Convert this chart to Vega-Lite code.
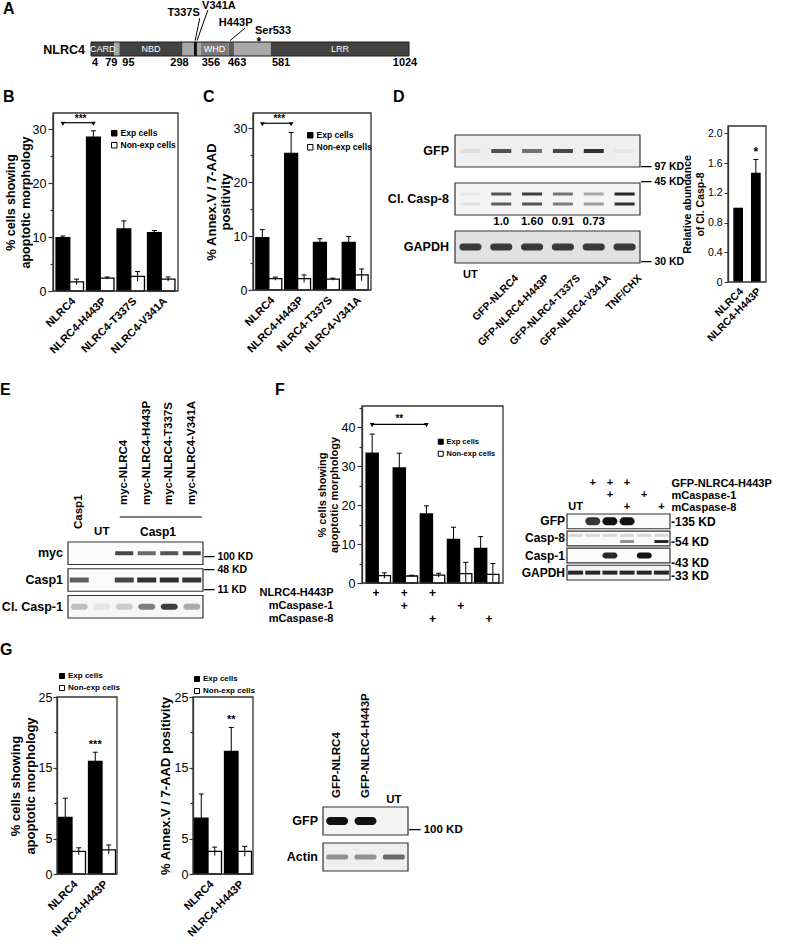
{
"$schema": "https://vega.github.io/schema/vega-lite/v6.json",
"width": 792,
"height": 948,
"autosize": {"type": "none"},
"padding": 0,
"background": "white",
"config": {
  "font": "Liberation Sans",
  "view": {"stroke": null},
  "axis": {"grid": false, "domainColor": "#333", "tickColor": "#333", "labelColor": "#000", "titleColor": "#000", "labelFont": "Liberation Sans", "titleFont": "Liberation Sans"},
  "legend": {"labelFont": "Liberation Sans"},
  "text": {"font": "Liberation Sans"}
},
"resolve": {
  "scale": {"x": "independent", "y": "independent", "xOffset": "independent", "yOffset": "independent", "color": "independent", "opacity": "independent"},
  "axis": {"x": "independent", "y": "independent"},
  "legend": {"color": "independent", "opacity": "independent"}
},
"layer": [
 {"layer": [
   {"data": {"values": [
     {"start": 4, "end": 79, "kind": "dark"},
     {"start": 79, "end": 95, "kind": "light"},
     {"start": 95, "end": 298, "kind": "dark"},
     {"start": 298, "end": 356, "kind": "light"},
     {"start": 356, "end": 445, "kind": "mid"},
     {"start": 445, "end": 463, "kind": "dark2"},
     {"start": 463, "end": 581, "kind": "light"},
     {"start": 581, "end": 1024, "kind": "dark"}]},
    "mark": {"type": "rect"},
    "encoding": {
      "x": {"field": "start", "type": "quantitative", "scale": {"domain": [4, 1024], "range": [91, 409], "nice": false, "zero": false}, "axis": null},
      "x2": {"field": "end"},
      "y": {"datum": 0, "type": "quantitative", "scale": {"domain": [0, 4], "range": [56, 0], "nice": false, "zero": false}, "axis": null},
      "y2": {"datum": 1},
      "color": {"field": "kind", "type": "nominal", "scale": {"domain": ["dark", "light", "mid", "dark2"], "range": ["#424242", "#a9a9a9", "#7b7b7b", "#5b5b5b"]}, "legend": null}}},
   {"data": {"values": [{"start": 4, "end": 1024}]},
    "mark": {"type": "rect", "fillOpacity": 0, "stroke": "#1a1a1a", "strokeWidth": 1},
    "encoding": {"x": {"field": "start", "type": "quantitative"}, "x2": {"field": "end"}, "y": {"datum": 0, "type": "quantitative"}, "y2": {"datum": 1}}},
   {"data": {"values": [{"residue": 337}, {"residue": 341}]},
    "mark": {"type": "rule", "color": "#000", "strokeWidth": 1.5},
    "encoding": {"x": {"field": "residue", "type": "quantitative"}, "y": {"datum": 0, "type": "quantitative"}, "y2": {"datum": 1}}},
   {"data": {"values": [{"domain": "CARD", "start": 4, "end": 79}, {"domain": "NBD", "start": 95, "end": 298}, {"domain": "WHD", "start": 356, "end": 445}, {"domain": "LRR", "start": 581, "end": 1024}]},
    "transform": [{"fold": ["start", "end"], "as": ["edge", "res"]}, {"aggregate": [{"op": "mean", "field": "res", "as": "center"}], "groupby": ["domain"]}],
    "mark": {"type": "text", "color": "#fff", "fontSize": 9, "baseline": "middle"},
    "encoding": {"x": {"field": "center", "type": "quantitative"}, "y": {"datum": 0.5, "type": "quantitative"}, "text": {"field": "domain"}}},
   {"data": {"values": [{"residue": 4}, {"residue": 356}, {"residue": 581}]},
    "mark": {"type": "text", "align": "left", "baseline": "middle", "dx": 1, "fontSize": 11, "fontWeight": "bold"},
    "encoding": {"x": {"field": "residue", "type": "quantitative"}, "y": {"datum": -0.5, "type": "quantitative"}, "text": {"field": "residue", "type": "quantitative", "format": "d"}}},
   {"data": {"values": [{"residue": 95}]},
    "mark": {"type": "text", "align": "left", "baseline": "middle", "dx": 3, "fontSize": 11, "fontWeight": "bold"},
    "encoding": {"x": {"field": "residue", "type": "quantitative"}, "y": {"datum": -0.5, "type": "quantitative"}, "text": {"field": "residue", "type": "quantitative", "format": "d"}}},
   {"data": {"values": [{"residue": 463}]},
    "mark": {"type": "text", "align": "center", "baseline": "middle", "dx": 3, "fontSize": 11, "fontWeight": "bold"},
    "encoding": {"x": {"field": "residue", "type": "quantitative"}, "y": {"datum": -0.5, "type": "quantitative"}, "text": {"field": "residue", "type": "quantitative", "format": "d"}}},
   {"data": {"values": [{"residue": 1024}]},
    "mark": {"type": "text", "align": "center", "baseline": "middle", "dx": -4, "fontSize": 11, "fontWeight": "bold"},
    "encoding": {"x": {"field": "residue", "type": "quantitative"}, "y": {"datum": -0.5, "type": "quantitative"}, "text": {"field": "residue", "type": "quantitative", "format": "d"}}},
   {"data": {"values": [{"residue": 79}]},
    "mark": {"type": "text", "align": "right", "baseline": "middle", "dx": 3, "fontSize": 11, "fontWeight": "bold"},
    "encoding": {"x": {"field": "residue", "type": "quantitative"}, "y": {"datum": -0.5, "type": "quantitative"}, "text": {"field": "residue", "type": "quantitative", "format": "d"}}},
   {"data": {"values": [{"residue": 298}]},
    "mark": {"type": "text", "align": "right", "baseline": "middle", "dx": 6, "fontSize": 11, "fontWeight": "bold"},
    "encoding": {"x": {"field": "residue", "type": "quantitative"}, "y": {"datum": -0.5, "type": "quantitative"}, "text": {"field": "residue", "type": "quantitative", "format": "d"}}},
   {"data": {"values": [{"protein": "NLRC4"}]},
    "mark": {"type": "text", "align": "right", "baseline": "middle", "dx": -6, "fontSize": 12.5, "fontWeight": "bold"},
    "encoding": {"x": {"datum": 4, "type": "quantitative"}, "y": {"datum": 0.4, "type": "quantitative"}, "text": {"field": "protein"}}},
   {"data": {"values": [{"mutation": "T337S", "residue": 337}]},
    "mark": {"type": "text", "align": "right", "baseline": "middle", "dx": 5, "fontSize": 11, "fontWeight": "bold"},
    "encoding": {"x": {"field": "residue", "type": "quantitative"}, "y": {"datum": 3.07, "type": "quantitative"}, "text": {"field": "mutation"}}},
   {"data": {"values": [{"mutation": "V341A", "residue": 341}]},
    "mark": {"type": "text", "align": "left", "baseline": "middle", "dx": 6, "fontSize": 11, "fontWeight": "bold"},
    "encoding": {"x": {"field": "residue", "type": "quantitative"}, "y": {"datum": 3.58, "type": "quantitative"}, "text": {"field": "mutation"}}},
   {"data": {"values": [{"mutation": "H443P", "residue": 443}]},
    "mark": {"type": "text", "align": "left", "baseline": "middle", "dx": -9, "fontSize": 11, "fontWeight": "bold"},
    "encoding": {"x": {"field": "residue", "type": "quantitative"}, "y": {"datum": 2.36, "type": "quantitative"}, "text": {"field": "mutation"}}},
   {"data": {"values": [{"site": "Ser533", "residue": 533}]},
    "mark": {"type": "text", "align": "left", "baseline": "middle", "dx": -1, "fontSize": 11, "fontWeight": "bold"},
    "encoding": {"x": {"field": "residue", "type": "quantitative"}, "y": {"datum": 1.78, "type": "quantitative"}, "text": {"field": "site"}}},
   {"data": {"values": [{"mark": "*", "residue": 533}]},
    "mark": {"type": "text", "align": "center", "baseline": "middle", "dx": 3, "fontSize": 12, "fontWeight": "bold"},
    "encoding": {"x": {"field": "residue", "type": "quantitative"}, "y": {"datum": 1.0, "type": "quantitative"}, "text": {"field": "mark"}}},
   {"data": {"values": [{"mutation": "T337S"}]},
    "mark": {"type": "rule", "color": "#000", "strokeWidth": 1},
    "encoding": {"x": {"datum": 353, "type": "quantitative"}, "y": {"datum": 2.71, "type": "quantitative"}, "x2": {"datum": 338}, "y2": {"datum": 1.1}}},
   {"data": {"values": [{"mutation": "V341A"}]},
    "mark": {"type": "rule", "color": "#000", "strokeWidth": 1},
    "encoding": {"x": {"datum": 379, "type": "quantitative"}, "y": {"datum": 3.29, "type": "quantitative"}, "x2": {"datum": 344}, "y2": {"datum": 1.1}}},
   {"data": {"values": [{"mutation": "H443P"}]},
    "mark": {"type": "rule", "color": "#000", "strokeWidth": 1},
    "encoding": {"x": {"datum": 498, "type": "quantitative"}, "y": {"datum": 2.0, "type": "quantitative"}, "x2": {"datum": 450}, "y2": {"datum": 1.1}}},
   {"data": {"values": [{"panel": "A"}]},
    "mark": {"type": "text", "align": "left", "baseline": "alphabetic", "fontSize": 16, "fontWeight": "bold"},
    "encoding": {"x": {"datum": -278, "type": "quantitative"}, "y": {"datum": 3.0, "type": "quantitative"}, "text": {"field": "panel"}}}
 ]},

 {"data": {"values": [
    {"construct": "NLRC4", "cells": "Exp cells", "value": 9.9, "lo": 9.5, "hi": 10.2},
    {"construct": "NLRC4", "cells": "Non-exp cells", "value": 1.7, "lo": 1.2, "hi": 2.2},
    {"construct": "NLRC4-H443P", "cells": "Exp cells", "value": 28.5, "lo": 27.3, "hi": 29.7},
    {"construct": "NLRC4-H443P", "cells": "Non-exp cells", "value": 2.4, "lo": 2.2, "hi": 2.6},
    {"construct": "NLRC4-T337S", "cells": "Exp cells", "value": 11.5, "lo": 10.0, "hi": 13.0},
    {"construct": "NLRC4-T337S", "cells": "Non-exp cells", "value": 2.7, "lo": 1.8, "hi": 3.6},
    {"construct": "NLRC4-V341A", "cells": "Exp cells", "value": 10.8, "lo": 10.4, "hi": 11.2},
    {"construct": "NLRC4-V341A", "cells": "Non-exp cells", "value": 2.2, "lo": 1.8, "hi": 2.6}]},
  "encoding": {
    "x": {"field": "construct", "type": "nominal", "scale": {"domain": ["NLRC4", "NLRC4-H443P", "NLRC4-T337S", "NLRC4-V341A"], "range": [53, 178], "paddingInner": 0.1, "paddingOuter": 0.1}, "axis": {"orient": "bottom", "offset": -657, "title": null, "labelAngle": -45, "labelFontSize": 11, "labelFontWeight": "bold", "ticks": false, "domain": false, "labelPadding": 4}},
    "xOffset": {"field": "cells", "type": "nominal", "scale": {"domain": ["Exp cells", "Non-exp cells"]}}},
  "layer": [
   {"mark": {"type": "bar", "stroke": "#000", "strokeWidth": 1.3, "opacity": 1},
    "encoding": {
      "y": {"field": "value", "type": "quantitative", "scale": {"domain": [0, 33], "range": [291, 113], "nice": false}, "axis": {"orient": "left", "offset": -53, "title": ["% cells showing", "apoptotic morphology"], "titleFontSize": 12.5, "titleFontWeight": "bold", "titleLineHeight": 15, "titlePadding": 0, "labelFontSize": 12.5, "values": [0, 5, 10, 15, 20, 25, 30], "labelExpr": "datum.value % 10 === 0 ? datum.label : ''", "tickSize": {"condition": {"test": "datum.value % 10 === 0", "value": 5}, "value": 3}, "tickWidth": 1.2, "labelPadding": 2, "domainWidth": 1.3}},
      "color": {"field": "cells", "type": "nominal", "scale": {"domain": ["Exp cells", "Non-exp cells"], "range": ["#000000", "#ffffff"]}, "legend": {"title": null, "orient": "none", "legendX": 110, "legendY": 129, "symbolType": "square", "symbolSize": 30, "symbolStrokeColor": "#000", "symbolStrokeWidth": 1, "labelFontSize": 8.5, "labelFontWeight": "bold", "rowPadding": 2, "labelOffset": 2, "padding": 0}}}},
   {"mark": {"type": "rule", "color": "#000", "strokeWidth": 1}, "encoding": {"y": {"field": "lo", "type": "quantitative"}, "y2": {"field": "hi"}}},
   {"mark": {"type": "tick", "orient": "horizontal", "size": 5, "thickness": 1, "color": "#000", "opacity": 1}, "encoding": {"y": {"field": "hi", "type": "quantitative"}}},
   {"data": {"values": [{"construct": "NLRC4"}, {"construct": "NLRC4-H443P"}]},
    "mark": {"type": "line", "color": "#000", "strokeWidth": 1.2},
    "encoding": {"xOffset": {"datum": "Exp cells"}, "y": {"datum": 31.2, "type": "quantitative"}}},
   {"data": {"values": [{"construct": "NLRC4"}, {"construct": "NLRC4-H443P"}]},
    "mark": {"type": "point", "shape": "triangle-down", "filled": true, "color": "#000", "size": 22, "opacity": 1},
    "encoding": {"xOffset": {"datum": "Exp cells"}, "y": {"datum": 31.0, "type": "quantitative"}}},
   {"data": {"values": [{"construct": "NLRC4", "sig": "***"}]},
    "mark": {"type": "text", "dx": 4, "dy": -4, "fontSize": 10, "fontWeight": "bold"},
    "encoding": {"xOffset": {"datum": "Non-exp cells"}, "y": {"datum": 31.2, "type": "quantitative"}, "text": {"field": "sig"}}}
 ]},

 {"data": {"values": [{"panel": "B"}]},
  "encoding": {"x": {"datum": 0, "type": "quantitative", "scale": {"domain": [0, 1], "range": [53, 178]}, "axis": null}, "y": {"datum": 0, "type": "quantitative", "scale": {"domain": [0, 1], "range": [291, 113]}, "axis": null}},
  "layer": [
   {"mark": {"type": "rect", "fillOpacity": 0, "stroke": "#333", "strokeWidth": 1.3}, "encoding": {"x2": {"datum": 1}, "y2": {"datum": 1}}},
   {"mark": {"type": "text", "align": "left", "baseline": "alphabetic", "fontSize": 16, "fontWeight": "bold"}, "encoding": {"x": {"datum": -0.4, "type": "quantitative"}, "y": {"datum": 1.062, "type": "quantitative"}, "text": {"field": "panel"}}}
 ]},

 {"data": {"values": [
    {"construct": "NLRC4", "cells": "Exp cells", "value": 9.7, "lo": 8.3, "hi": 11.2},
    {"construct": "NLRC4", "cells": "Non-exp cells", "value": 2.1, "lo": 1.8, "hi": 2.4},
    {"construct": "NLRC4-H443P", "cells": "Exp cells", "value": 25.3, "lo": 21.4, "hi": 29.2},
    {"construct": "NLRC4-H443P", "cells": "Non-exp cells", "value": 2.1, "lo": 1.4, "hi": 2.8},
    {"construct": "NLRC4-T337S", "cells": "Exp cells", "value": 8.8, "lo": 8.1, "hi": 9.5},
    {"construct": "NLRC4-T337S", "cells": "Non-exp cells", "value": 2.0, "lo": 1.8, "hi": 2.2},
    {"construct": "NLRC4-V341A", "cells": "Exp cells", "value": 8.8, "lo": 7.7, "hi": 9.9},
    {"construct": "NLRC4-V341A", "cells": "Non-exp cells", "value": 2.8, "lo": 1.7, "hi": 3.9}]},
  "encoding": {
    "x": {"field": "construct", "type": "nominal", "scale": {"domain": ["NLRC4", "NLRC4-H443P", "NLRC4-T337S", "NLRC4-V341A"], "range": [253, 371], "paddingInner": 0.1, "paddingOuter": 0.1}, "axis": {"orient": "bottom", "offset": -658, "title": null, "labelAngle": -45, "labelFontSize": 11, "labelFontWeight": "bold", "ticks": false, "domain": false, "labelPadding": 4}},
    "xOffset": {"field": "cells", "type": "nominal", "scale": {"domain": ["Exp cells", "Non-exp cells"]}}},
  "layer": [
   {"mark": {"type": "bar", "stroke": "#000", "strokeWidth": 1.3, "opacity": 1},
    "encoding": {
      "y": {"field": "value", "type": "quantitative", "scale": {"domain": [0, 32.8], "range": [290, 113], "nice": false}, "axis": {"orient": "left", "offset": -253, "title": ["% Annex.V / 7-AAD", "positivity"], "titleFontSize": 13, "titleFontWeight": "bold", "titleLineHeight": 14, "titlePadding": 1, "labelFontSize": 12.5, "values": [0, 5, 10, 15, 20, 25, 30], "labelExpr": "datum.value % 10 === 0 ? datum.label : ''", "tickSize": {"condition": {"test": "datum.value % 10 === 0", "value": 5}, "value": 3}, "tickWidth": 1.2, "labelPadding": 1, "domainWidth": 1.3}},
      "color": {"field": "cells", "type": "nominal", "scale": {"domain": ["Exp cells", "Non-exp cells"], "range": ["#000000", "#ffffff"]}, "legend": {"title": null, "orient": "none", "legendX": 306, "legendY": 131, "symbolType": "square", "symbolSize": 30, "symbolStrokeColor": "#000", "symbolStrokeWidth": 1, "labelFontSize": 8.5, "labelFontWeight": "bold", "rowPadding": 2, "labelOffset": 2, "padding": 0}}}},
   {"mark": {"type": "rule", "color": "#000", "strokeWidth": 1}, "encoding": {"y": {"field": "lo", "type": "quantitative"}, "y2": {"field": "hi"}}},
   {"mark": {"type": "tick", "orient": "horizontal", "size": 5, "thickness": 1, "color": "#000", "opacity": 1}, "encoding": {"y": {"field": "hi", "type": "quantitative"}}},
   {"data": {"values": [{"construct": "NLRC4"}, {"construct": "NLRC4-H443P"}]},
    "mark": {"type": "line", "color": "#000", "strokeWidth": 1.2},
    "encoding": {"xOffset": {"datum": "Exp cells"}, "y": {"datum": 30.9, "type": "quantitative"}}},
   {"data": {"values": [{"construct": "NLRC4"}, {"construct": "NLRC4-H443P"}]},
    "mark": {"type": "point", "shape": "triangle-down", "filled": true, "color": "#000", "size": 22, "opacity": 1},
    "encoding": {"xOffset": {"datum": "Exp cells"}, "y": {"datum": 30.7, "type": "quantitative"}}},
   {"data": {"values": [{"construct": "NLRC4", "sig": "***"}]},
    "mark": {"type": "text", "dx": 4, "dy": -4, "fontSize": 10, "fontWeight": "bold"},
    "encoding": {"xOffset": {"datum": "Non-exp cells"}, "y": {"datum": 30.9, "type": "quantitative"}, "text": {"field": "sig"}}}
 ]},

 {"data": {"values": [{"panel": "C"}]},
  "encoding": {"x": {"datum": 0, "type": "quantitative", "scale": {"domain": [0, 1], "range": [253, 371]}, "axis": null}, "y": {"datum": 0, "type": "quantitative", "scale": {"domain": [0, 1], "range": [290, 113]}, "axis": null}},
  "layer": [
   {"mark": {"type": "rect", "fillOpacity": 0, "stroke": "#333", "strokeWidth": 1.3}, "encoding": {"x2": {"datum": 1}, "y2": {"datum": 1}}},
   {"mark": {"type": "text", "align": "left", "baseline": "alphabetic", "fontSize": 16, "fontWeight": "bold"}, "encoding": {"x": {"datum": -0.424, "type": "quantitative"}, "y": {"datum": 1.062, "type": "quantitative"}, "text": {"field": "panel"}}},
   {"data": {"values": [{"panel": "D"}]}, "mark": {"type": "text", "align": "left", "baseline": "alphabetic", "fontSize": 16, "fontWeight": "bold"}, "encoding": {"x": {"datum": 1.186, "type": "quantitative"}, "y": {"datum": 1.062, "type": "quantitative"}, "text": {"field": "panel"}}}
 ]},

 {"layer": [
   {"data": {"values": [{"strip": "GFP"}, {"strip": "Cl. Casp-8"}, {"strip": "GAPDH"}]},
    "mark": {"type": "rect", "stroke": "#333", "strokeWidth": 1.2},
    "encoding": {
      "x": {"datum": 0.5, "type": "quantitative", "scale": {"domain": [0.5, 6.5], "range": [455, 640], "nice": false, "zero": false}, "axis": null},
      "x2": {"datum": 6.5},
      "y": {"field": "strip", "type": "nominal", "scale": {"domain": ["GFP", "Cl. Casp-8", "GAPDH"], "range": [135, 263], "paddingInner": 0.333, "paddingOuter": 0}, "axis": null},
      "color": {"field": "strip", "type": "nominal", "scale": {"domain": ["GFP", "Cl. Casp-8", "GAPDH"], "range": ["#efefef", "#f4f4f4", "#e2e2e2"]}, "legend": null}}},
   {"data": {"values": [{"lane": 1, "intensity": 0.08}, {"lane": 2, "intensity": 0.75}, {"lane": 3, "intensity": 0.6}, {"lane": 4, "intensity": 0.8}, {"lane": 5, "intensity": 0.9}, {"lane": 6, "intensity": 0.04}]},
    "mark": {"type": "tick", "orient": "horizontal", "size": 20, "thickness": 4, "color": "#1c1c1c"},
    "encoding": {"x": {"field": "lane", "type": "quantitative"}, "y": {"datum": "GFP", "type": "nominal"}, "opacity": {"field": "intensity", "type": "quantitative", "scale": {"domain": [0, 1], "range": [0, 1]}, "legend": null}}},
   {"data": {"values": [
      {"lane": 1, "band": "upper", "intensity": 0.05}, {"lane": 1, "band": "lower", "intensity": 0.08},
      {"lane": 2, "band": "upper", "intensity": 0.75}, {"lane": 2, "band": "lower", "intensity": 0.7},
      {"lane": 3, "band": "upper", "intensity": 0.85}, {"lane": 3, "band": "lower", "intensity": 0.75},
      {"lane": 4, "band": "upper", "intensity": 0.6}, {"lane": 4, "band": "lower", "intensity": 0.55},
      {"lane": 5, "band": "upper", "intensity": 0.35}, {"lane": 5, "band": "lower", "intensity": 0.4},
      {"lane": 6, "band": "upper", "intensity": 0.95}, {"lane": 6, "band": "lower", "intensity": 0.9}]},
    "mark": {"type": "tick", "orient": "horizontal", "size": 20, "thickness": 3, "color": "#1c1c1c"},
    "encoding": {"x": {"field": "lane", "type": "quantitative"}, "y": {"datum": "Cl. Casp-8", "type": "nominal"}, "yOffset": {"field": "band", "type": "nominal", "scale": {"domain": ["upper", "lower"], "paddingInner": 0, "paddingOuter": 0.6}}, "opacity": {"field": "intensity", "type": "quantitative"}}},
   {"data": {"values": [{"lane": 1, "intensity": 0.85}, {"lane": 2, "intensity": 0.85}, {"lane": 3, "intensity": 0.85}, {"lane": 4, "intensity": 0.85}, {"lane": 5, "intensity": 0.85}, {"lane": 6, "intensity": 0.85}]},
    "mark": {"type": "tick", "orient": "horizontal", "size": 22, "thickness": 7, "color": "#1c1c1c", "cornerRadius": 3},
    "encoding": {"x": {"field": "lane", "type": "quantitative"}, "y": {"datum": "GAPDH", "type": "nominal"}, "opacity": {"field": "intensity", "type": "quantitative"}}},
   {"data": {"values": [{"strip": "GFP"}, {"strip": "Cl. Casp-8"}, {"strip": "GAPDH"}]},
    "mark": {"type": "text", "align": "right", "baseline": "middle", "dx": -6, "fontSize": 12.5, "fontWeight": "bold"},
    "encoding": {"x": {"datum": 0.5, "type": "quantitative"}, "y": {"field": "strip", "type": "nominal"}, "text": {"field": "strip"}}},
   {"data": {"values": [{"lane": 2, "ratio": "1.0"}, {"lane": 3, "ratio": "1.60"}, {"lane": 4, "ratio": "0.91"}, {"lane": 5, "ratio": "0.73"}]},
    "mark": {"type": "text", "baseline": "middle", "dy": 23, "fontSize": 11.5, "fontWeight": "bold"},
    "encoding": {"x": {"field": "lane", "type": "quantitative"}, "y": {"datum": "Cl. Casp-8", "type": "nominal"}, "text": {"field": "ratio"}}},
   {"data": {"values": [{"marker": "— 97 KD"}]},
    "mark": {"type": "text", "align": "left", "baseline": "middle", "dx": 1, "dy": 16, "fontSize": 10.5, "fontWeight": "bold"},
    "encoding": {"x": {"datum": 6.5, "type": "quantitative"}, "y": {"datum": "GFP", "type": "nominal"}, "text": {"field": "marker"}}},
   {"data": {"values": [{"marker": "— 45 KD"}]},
    "mark": {"type": "text", "align": "left", "baseline": "middle", "dx": 1, "dy": -17, "fontSize": 10.5, "fontWeight": "bold"},
    "encoding": {"x": {"datum": 6.5, "type": "quantitative"}, "y": {"datum": "Cl. Casp-8", "type": "nominal"}, "text": {"field": "marker"}}},
   {"data": {"values": [{"marker": "— 30 KD"}]},
    "mark": {"type": "text", "align": "left", "baseline": "middle", "dx": 1, "dy": 15, "fontSize": 10.5, "fontWeight": "bold"},
    "encoding": {"x": {"datum": 6.5, "type": "quantitative"}, "y": {"datum": "GAPDH", "type": "nominal"}, "text": {"field": "marker"}}},
   {"data": {"values": [{"lane": 1, "name": "UT"}]},
    "mark": {"type": "text", "baseline": "middle", "dy": 28, "fontSize": 11, "fontWeight": "bold"},
    "encoding": {"x": {"field": "lane", "type": "quantitative"}, "y": {"datum": "GAPDH", "type": "nominal"}, "text": {"field": "name"}}},
   {"data": {"values": [{"lane": 2, "name": "GFP-NLRC4"}, {"lane": 3, "name": "GFP-NLRC4-H443P"}, {"lane": 4, "name": "GFP-NLRC4-T337S"}, {"lane": 5, "name": "GFP-NLRC4-V341A"}, {"lane": 6, "name": "TNF/CHX"}]},
    "mark": {"type": "text", "angle": 315, "align": "right", "baseline": "middle", "dx": -10, "dy": 32, "fontSize": 10.5, "fontWeight": "bold"},
    "encoding": {"x": {"field": "lane", "type": "quantitative"}, "y": {"datum": "GAPDH", "type": "nominal"}, "text": {"field": "name"}}}
 ]},

 {"data": {"values": [{"construct": "NLRC4", "value": 1.0}, {"construct": "NLRC4-H443P", "value": 1.47, "lo": 1.29, "hi": 1.65, "sig": "*"}]},
  "encoding": {"x": {"field": "construct", "type": "nominal", "scale": {"domain": ["NLRC4", "NLRC4-H443P"], "range": [728, 766], "paddingInner": 0.45, "paddingOuter": 0.3}, "axis": {"orient": "bottom", "offset": -666, "title": null, "labelAngle": -45, "labelFontSize": 10.5, "labelFontWeight": "bold", "ticks": false, "domain": false, "labelPadding": 4}}},
  "layer": [
   {"mark": {"type": "bar", "color": "#000", "opacity": 1},
    "encoding": {"y": {"field": "value", "type": "quantitative", "scale": {"domain": [0, 2.1], "range": [282, 126], "nice": false}, "axis": {"orient": "left", "offset": -728, "title": ["Relative abundance", "of Cl. Casp-8"], "titleFontSize": 10.5, "titleFontWeight": "bold", "titleLineHeight": 13, "titlePadding": 2, "labelFontSize": 10.5, "values": [0, 0.4, 0.8, 1.2, 1.6, 2.0], "labelExpr": "datum.value === 0 ? '0' : format(datum.value, '.1f')", "tickSize": 4, "labelPadding": 2, "domainWidth": 1.3}}}},
   {"mark": {"type": "rule", "color": "#000", "strokeWidth": 1}, "encoding": {"y": {"field": "lo", "type": "quantitative"}, "y2": {"field": "hi"}}},
   {"mark": {"type": "tick", "orient": "horizontal", "size": 5, "thickness": 1, "color": "#000", "opacity": 1}, "encoding": {"y": {"field": "hi", "type": "quantitative"}}},
   {"transform": [{"filter": "isValid(datum.sig)"}], "mark": {"type": "text", "dy": -7, "fontSize": 12, "fontWeight": "bold"}, "encoding": {"y": {"field": "hi", "type": "quantitative"}, "text": {"field": "sig"}}}
 ]},

 {"data": {"values": [{"panel": "D-bar"}]},
  "mark": {"type": "rect", "fillOpacity": 0, "stroke": "#333", "strokeWidth": 1.3},
  "encoding": {"x": {"datum": 0, "type": "quantitative", "scale": {"domain": [0, 1], "range": [728, 766]}, "axis": null}, "x2": {"datum": 1}, "y": {"datum": 0, "type": "quantitative", "scale": {"domain": [0, 1], "range": [282, 126]}, "axis": null}, "y2": {"datum": 1}}},

 {"layer": [
   {"data": {"values": [{"strip": "myc"}, {"strip": "Casp1"}, {"strip": "Cl. Casp-1"}]},
    "mark": {"type": "rect", "stroke": "#333", "strokeWidth": 1.2},
    "encoding": {
      "x": {"datum": 0.5, "type": "quantitative", "scale": {"domain": [0.5, 6.5], "range": [68, 203], "nice": false, "zero": false}, "axis": null},
      "x2": {"datum": 6.5},
      "y": {"field": "strip", "type": "nominal", "scale": {"domain": ["myc", "Casp1", "Cl. Casp-1"], "range": [542, 618], "paddingInner": 0.16, "paddingOuter": 0}, "axis": null},
      "color": {"field": "strip", "type": "nominal", "scale": {"domain": ["myc", "Casp1", "Cl. Casp-1"], "range": ["#fbfbfb", "#fbfbfb", "#f6f6f6"]}, "legend": null}}},
   {"data": {"values": [{"lane": 3, "intensity": 0.8}, {"lane": 4, "intensity": 0.65}, {"lane": 5, "intensity": 0.75}, {"lane": 6, "intensity": 0.8}]},
    "mark": {"type": "tick", "orient": "horizontal", "size": 18, "thickness": 4, "color": "#1c1c1c"},
    "encoding": {"x": {"field": "lane", "type": "quantitative"}, "y": {"datum": "myc", "type": "nominal"}, "opacity": {"field": "intensity", "type": "quantitative", "scale": {"domain": [0, 1], "range": [0, 1]}, "legend": null}}},
   {"data": {"values": [{"lane": 1, "intensity": 0.7}, {"lane": 3, "intensity": 0.8}, {"lane": 4, "intensity": 0.9}, {"lane": 5, "intensity": 0.92}, {"lane": 6, "intensity": 0.9}]},
    "mark": {"type": "tick", "orient": "horizontal", "size": 19, "thickness": 5, "color": "#1c1c1c"},
    "encoding": {"x": {"field": "lane", "type": "quantitative"}, "y": {"datum": "Casp1", "type": "nominal"}, "opacity": {"field": "intensity", "type": "quantitative"}}},
   {"data": {"values": [{"lane": 1, "intensity": 0.25}, {"lane": 2, "intensity": 0.08}, {"lane": 3, "intensity": 0.2}, {"lane": 4, "intensity": 0.55}, {"lane": 5, "intensity": 0.85}, {"lane": 6, "intensity": 0.35}]},
    "mark": {"type": "tick", "orient": "horizontal", "size": 17, "thickness": 6, "color": "#1c1c1c", "cornerRadius": 3},
    "encoding": {"x": {"field": "lane", "type": "quantitative"}, "y": {"datum": "Cl. Casp-1", "type": "nominal"}, "opacity": {"field": "intensity", "type": "quantitative"}}},
   {"data": {"values": [{"strip": "myc"}, {"strip": "Casp1"}, {"strip": "Cl. Casp-1"}]},
    "mark": {"type": "text", "align": "right", "baseline": "middle", "dx": -5, "fontSize": 12.5, "fontWeight": "bold"},
    "encoding": {"x": {"datum": 0.5, "type": "quantitative"}, "y": {"field": "strip", "type": "nominal"}, "text": {"field": "strip"}}},
   {"data": {"values": [{"marker": "— 100 KD"}]},
    "mark": {"type": "text", "align": "left", "baseline": "middle", "dx": 1, "dy": 4, "fontSize": 10.5, "fontWeight": "bold"},
    "encoding": {"x": {"datum": 6.5, "type": "quantitative"}, "y": {"datum": "myc", "type": "nominal"}, "text": {"field": "marker"}}},
   {"data": {"values": [{"marker": "— 48 KD"}]},
    "mark": {"type": "text", "align": "left", "baseline": "middle", "dx": 1, "dy": -10, "fontSize": 10.5, "fontWeight": "bold"},
    "encoding": {"x": {"datum": 6.5, "type": "quantitative"}, "y": {"datum": "Casp1", "type": "nominal"}, "text": {"field": "marker"}}},
   {"data": {"values": [{"marker": "— 11 KD"}]},
    "mark": {"type": "text", "align": "left", "baseline": "middle", "dx": 1, "dy": -17, "fontSize": 10.5, "fontWeight": "bold"},
    "encoding": {"x": {"datum": 6.5, "type": "quantitative"}, "y": {"datum": "Cl. Casp-1", "type": "nominal"}, "text": {"field": "marker"}}}
 ]},

 {"layer": [
   {"data": {"values": [{"lane": 3, "name": "myc-NLRC4"}, {"lane": 4, "name": "myc-NLRC4-H443P"}, {"lane": 5, "name": "myc-NLRC4-T337S"}, {"lane": 6, "name": "myc-NLRC4-V341A"}]},
    "mark": {"type": "text", "angle": 270, "align": "left", "baseline": "middle", "dx": 12, "fontSize": 11.5, "fontWeight": "bold"},
    "encoding": {"x": {"field": "lane", "type": "quantitative", "scale": {"domain": [0.5, 6.5], "range": [68, 203], "nice": false, "zero": false}, "axis": null}, "y": {"datum": "header", "type": "nominal", "scale": {"domain": ["header"], "range": [506, 528]}, "axis": null}, "text": {"field": "name"}}},
   {"data": {"values": [{"lane": 1, "name": "Casp1"}]},
    "mark": {"type": "text", "angle": 270, "align": "left", "baseline": "middle", "dx": -12, "fontSize": 11.5, "fontWeight": "bold"},
    "encoding": {"x": {"field": "lane", "type": "quantitative"}, "y": {"datum": "header", "type": "nominal"}, "text": {"field": "name"}}},
   {"data": {"values": [{"lane": 2, "name": "UT"}]},
    "mark": {"type": "text", "align": "center", "baseline": "middle", "dy": 15, "fontSize": 11.5, "fontWeight": "bold"},
    "encoding": {"x": {"field": "lane", "type": "quantitative"}, "y": {"datum": "header", "type": "nominal"}, "text": {"field": "name"}}},
   {"data": {"values": [{"first": 2.8, "last": 6.45, "group": "Casp1"}]},
    "mark": {"type": "rule", "color": "#000", "strokeWidth": 1.2},
    "encoding": {"x": {"field": "first", "type": "quantitative"}, "x2": {"field": "last"}, "y": {"datum": "header", "type": "nominal"}}},
   {"data": {"values": [{"lane": 4.5, "group": "Casp1"}]},
    "mark": {"type": "text", "align": "center", "baseline": "middle", "dy": 15, "fontSize": 12, "fontWeight": "bold"},
    "encoding": {"x": {"field": "lane", "type": "quantitative"}, "y": {"datum": "header", "type": "nominal"}, "text": {"field": "group"}}}
 ]},

 {"data": {"values": [
    {"condition": "H443P", "cells": "Exp cells", "value": 33.3, "lo": 28.5, "hi": 38.2},
    {"condition": "H443P", "cells": "Non-exp cells", "value": 1.9, "lo": 1.2, "hi": 2.6},
    {"condition": "H443P+mCasp1", "cells": "Exp cells", "value": 29.5, "lo": 25.7, "hi": 33.3},
    {"condition": "H443P+mCasp1", "cells": "Non-exp cells", "value": 1.8, "lo": 1.6, "hi": 2.0},
    {"condition": "H443P+mCasp8", "cells": "Exp cells", "value": 17.7, "lo": 15.6, "hi": 19.8},
    {"condition": "H443P+mCasp8", "cells": "Non-exp cells", "value": 2.0, "lo": 1.5, "hi": 2.5},
    {"condition": "mCasp1", "cells": "Exp cells", "value": 11.2, "lo": 8.1, "hi": 14.3},
    {"condition": "mCasp1", "cells": "Non-exp cells", "value": 2.4, "lo": 0.2, "hi": 5.3},
    {"condition": "mCasp8", "cells": "Exp cells", "value": 8.9, "lo": 5.9, "hi": 11.9},
    {"condition": "mCasp8", "cells": "Non-exp cells", "value": 2.2, "lo": 0.2, "hi": 5.0}]},
  "encoding": {
    "x": {"field": "condition", "type": "nominal", "scale": {"domain": ["H443P", "H443P+mCasp1", "H443P+mCasp8", "mCasp1", "mCasp8"], "range": [362, 503], "paddingInner": 0.1, "paddingOuter": 0.15}, "axis": null},
    "xOffset": {"field": "cells", "type": "nominal", "scale": {"domain": ["Exp cells", "Non-exp cells"]}}},
  "layer": [
   {"mark": {"type": "bar", "stroke": "#000", "strokeWidth": 1.3, "opacity": 1},
    "encoding": {
      "y": {"field": "value", "type": "quantitative", "scale": {"domain": [0, 45.4], "range": [583, 406], "nice": false}, "axis": {"orient": "left", "offset": -362, "title": ["% cells showing", "apoptotic morphology"], "titleFontSize": 11, "titleFontWeight": "bold", "titleLineHeight": 11.5, "titlePadding": 2, "labelFontSize": 12.5, "values": [0, 5, 10, 15, 20, 25, 30, 35, 40, 45], "labelExpr": "datum.value % 10 === 0 ? datum.label : ''", "tickSize": {"condition": {"test": "datum.value % 10 === 0", "value": 5}, "value": 3}, "tickWidth": 1.2, "labelPadding": 2, "domainWidth": 1.3}},
      "color": {"field": "cells", "type": "nominal", "scale": {"domain": ["Exp cells", "Non-exp cells"], "range": ["#000000", "#ffffff"]}, "legend": {"title": null, "orient": "none", "legendX": 437, "legendY": 438, "symbolType": "square", "symbolSize": 25, "symbolStrokeColor": "#000", "symbolStrokeWidth": 1, "labelFontSize": 7.5, "labelFontWeight": "bold", "rowPadding": 2, "labelOffset": 2, "padding": 0}}}},
   {"mark": {"type": "rule", "color": "#000", "strokeWidth": 1}, "encoding": {"y": {"field": "lo", "type": "quantitative"}, "y2": {"field": "hi"}}},
   {"mark": {"type": "tick", "orient": "horizontal", "size": 5, "thickness": 1, "color": "#000", "opacity": 1}, "encoding": {"y": {"field": "hi", "type": "quantitative"}}},
   {"data": {"values": [{"condition": "H443P"}, {"condition": "H443P+mCasp8"}]},
    "mark": {"type": "line", "color": "#000", "strokeWidth": 1.2},
    "encoding": {"xOffset": {"datum": "Exp cells"}, "y": {"datum": 40.7, "type": "quantitative"}}},
   {"data": {"values": [{"condition": "H443P"}, {"condition": "H443P+mCasp8"}]},
    "mark": {"type": "point", "shape": "triangle-down", "filled": true, "color": "#000", "size": 22, "opacity": 1},
    "encoding": {"xOffset": {"datum": "Exp cells"}, "y": {"datum": 40.5, "type": "quantitative"}}},
   {"data": {"values": [{"condition": "H443P+mCasp1", "sig": "**"}]},
    "mark": {"type": "text", "dy": -5, "fontSize": 10, "fontWeight": "bold"},
    "encoding": {"xOffset": {"datum": "Exp cells"}, "y": {"datum": 40.7, "type": "quantitative"}, "text": {"field": "sig"}}}
 ]},

 {"data": {"values": [{"panel": "F"}]},
  "encoding": {"x": {"datum": 0, "type": "quantitative", "scale": {"domain": [0, 1], "range": [362, 503]}, "axis": null}, "y": {"datum": 0, "type": "quantitative", "scale": {"domain": [0, 1], "range": [583, 406]}, "axis": null}},
  "layer": [
   {"mark": {"type": "rect", "fillOpacity": 0, "stroke": "#333", "strokeWidth": 1.3}, "encoding": {"x2": {"datum": 1}, "y2": {"datum": 1}}},
   {"mark": {"type": "text", "align": "left", "baseline": "alphabetic", "fontSize": 16, "fontWeight": "bold"}, "encoding": {"x": {"datum": -0.617, "type": "quantitative"}, "y": {"datum": 1.062, "type": "quantitative"}, "text": {"field": "panel"}}},
   {"data": {"values": [{"panel": "E"}]}, "mark": {"type": "text", "align": "left", "baseline": "alphabetic", "fontSize": 16, "fontWeight": "bold"}, "encoding": {"x": {"datum": -2.567, "type": "quantitative"}, "y": {"datum": 1.062, "type": "quantitative"}, "text": {"field": "panel"}}}
 ]},

 {"data": {"values": [
    {"condition": "H443P", "factor": "NLRC4-H443P", "sign": "+"},
    {"condition": "H443P+mCasp1", "factor": "NLRC4-H443P", "sign": "+"},
    {"condition": "H443P+mCasp8", "factor": "NLRC4-H443P", "sign": "+"},
    {"condition": "H443P+mCasp1", "factor": "mCaspase-1", "sign": "+"},
    {"condition": "mCasp1", "factor": "mCaspase-1", "sign": "+"},
    {"condition": "H443P+mCasp8", "factor": "mCaspase-8", "sign": "+"},
    {"condition": "mCasp8", "factor": "mCaspase-8", "sign": "+"}]},
  "mark": {"type": "text", "fontSize": 12, "fontWeight": "bold", "baseline": "middle"},
  "encoding": {
    "x": {"field": "condition", "type": "nominal", "scale": {"domain": ["H443P", "H443P+mCasp1", "H443P+mCasp8", "mCasp1", "mCasp8"], "range": [362, 503], "paddingInner": 0.1, "paddingOuter": 0.15}, "axis": null},
    "y": {"field": "factor", "type": "nominal", "scale": {"domain": ["NLRC4-H443P", "mCaspase-1", "mCaspase-8"], "range": [586, 625], "paddingInner": 0, "paddingOuter": 0}, "axis": {"orient": "left", "offset": -362, "title": null, "ticks": false, "domain": false, "labelFontSize": 11, "labelFontWeight": "bold", "labelPadding": 29}},
    "text": {"field": "sign"}}},

 {"layer": [
   {"data": {"values": [{"strip": "GFP"}, {"strip": "Casp-8"}, {"strip": "Casp-1"}, {"strip": "GAPDH"}]},
    "mark": {"type": "rect", "stroke": "#333", "strokeWidth": 1.2},
    "encoding": {
      "x": {"datum": 0.5, "type": "quantitative", "scale": {"domain": [0.5, 6.5], "range": [567, 670], "nice": false, "zero": false}, "axis": null},
      "x2": {"datum": 6.5},
      "y": {"field": "strip", "type": "nominal", "scale": {"domain": ["GFP", "Casp-8", "Casp-1", "GAPDH"], "range": [514, 580], "paddingInner": 0.137, "paddingOuter": 0}, "axis": null},
      "color": {"field": "strip", "type": "nominal", "scale": {"domain": ["GFP", "Casp-8", "Casp-1", "GAPDH"], "range": ["#fafafa", "#fafafa", "#fafafa", "#f4f4f4"]}, "legend": null}}},
   {"data": {"values": [{"lane": 2, "intensity": 0.85}, {"lane": 3, "intensity": 1}, {"lane": 4, "intensity": 1}]},
    "mark": {"type": "tick", "orient": "horizontal", "size": 15, "thickness": 8, "color": "#111", "cornerRadius": 4},
    "encoding": {"x": {"field": "lane", "type": "quantitative"}, "y": {"datum": "GFP", "type": "nominal"}, "opacity": {"field": "intensity", "type": "quantitative", "scale": {"domain": [0, 1], "range": [0, 1]}, "legend": null}}},
   {"data": {"values": [
      {"lane": 1, "band": "upper", "intensity": 0.15}, {"lane": 2, "band": "upper", "intensity": 0.15}, {"lane": 3, "band": "upper", "intensity": 0.15}, {"lane": 4, "band": "upper", "intensity": 0.15}, {"lane": 5, "band": "upper", "intensity": 0.15}, {"lane": 6, "band": "upper", "intensity": 0.15},
      {"lane": 4, "band": "lower", "intensity": 0.45}, {"lane": 6, "band": "lower", "intensity": 0.9}]},
    "mark": {"type": "tick", "orient": "horizontal", "size": 14, "thickness": 3, "color": "#111"},
    "encoding": {"x": {"field": "lane", "type": "quantitative"}, "y": {"datum": "Casp-8", "type": "nominal"}, "yOffset": {"field": "band", "type": "nominal", "scale": {"domain": ["upper", "lower"], "paddingInner": 0, "paddingOuter": 0.2}}, "opacity": {"field": "intensity", "type": "quantitative"}}},
   {"data": {"values": [{"lane": 3, "intensity": 0.9}, {"lane": 5, "intensity": 1}]},
    "mark": {"type": "tick", "orient": "horizontal", "size": 15, "thickness": 6, "color": "#111", "cornerRadius": 3},
    "encoding": {"x": {"field": "lane", "type": "quantitative"}, "y": {"datum": "Casp-1", "type": "nominal"}, "opacity": {"field": "intensity", "type": "quantitative"}}},
   {"data": {"values": [{"lane": 1, "intensity": 0.9}, {"lane": 2, "intensity": 0.9}, {"lane": 3, "intensity": 0.9}, {"lane": 4, "intensity": 0.9}, {"lane": 5, "intensity": 0.9}, {"lane": 6, "intensity": 0.9}]},
    "mark": {"type": "tick", "orient": "horizontal", "size": 15, "thickness": 4, "color": "#111"},
    "encoding": {"x": {"field": "lane", "type": "quantitative"}, "y": {"datum": "GAPDH", "type": "nominal"}, "opacity": {"field": "intensity", "type": "quantitative"}}},
   {"data": {"values": [{"strip": "GFP"}, {"strip": "Casp-8"}, {"strip": "Casp-1"}, {"strip": "GAPDH"}]},
    "mark": {"type": "text", "align": "right", "baseline": "middle", "dx": -2, "fontSize": 12, "fontWeight": "bold"},
    "encoding": {"x": {"datum": 0.5, "type": "quantitative"}, "y": {"field": "strip", "type": "nominal"}, "text": {"field": "strip"}}},
   {"data": {"values": [{"strip": "GFP", "marker": "-135 KD"}]},
    "mark": {"type": "text", "align": "left", "baseline": "middle", "dx": 1, "dy": 1, "fontSize": 12, "fontWeight": "bold"},
    "encoding": {"x": {"datum": 6.5, "type": "quantitative"}, "y": {"field": "strip", "type": "nominal"}, "text": {"field": "marker"}}},
   {"data": {"values": [{"strip": "Casp-8", "marker": "-54 KD"}]},
    "mark": {"type": "text", "align": "left", "baseline": "middle", "dx": 1, "dy": 4, "fontSize": 12, "fontWeight": "bold"},
    "encoding": {"x": {"datum": 6.5, "type": "quantitative"}, "y": {"field": "strip", "type": "nominal"}, "text": {"field": "marker"}}},
   {"data": {"values": [{"strip": "Casp-1", "marker": "-43 KD"}]},
    "mark": {"type": "text", "align": "left", "baseline": "middle", "dx": 1, "dy": 7, "fontSize": 12, "fontWeight": "bold"},
    "encoding": {"x": {"datum": 6.5, "type": "quantitative"}, "y": {"field": "strip", "type": "nominal"}, "text": {"field": "marker"}}},
   {"data": {"values": [{"strip": "GAPDH", "marker": "-33 KD"}]},
    "mark": {"type": "text", "align": "left", "baseline": "middle", "dx": 1, "dy": 3, "fontSize": 12, "fontWeight": "bold"},
    "encoding": {"x": {"datum": 6.5, "type": "quantitative"}, "y": {"field": "strip", "type": "nominal"}, "text": {"field": "marker"}}}
 ]},

 {"data": {"values": [
    {"lane": 2, "factor": "GFP-NLRC4-H443P", "sign": "+"},
    {"lane": 3, "factor": "GFP-NLRC4-H443P", "sign": "+"},
    {"lane": 4, "factor": "GFP-NLRC4-H443P", "sign": "+"},
    {"lane": 3, "factor": "mCaspase-1", "sign": "+"},
    {"lane": 5, "factor": "mCaspase-1", "sign": "+"},
    {"lane": 4, "factor": "mCaspase-8", "sign": "+"},
    {"lane": 6, "factor": "mCaspase-8", "sign": "+"},
    {"lane": 1, "factor": "mCaspase-8", "sign": "UT"}]},
  "mark": {"type": "text", "fontSize": 11, "fontWeight": "bold", "baseline": "middle"},
  "encoding": {
    "x": {"field": "lane", "type": "quantitative", "scale": {"domain": [0.5, 6.5], "range": [567, 670], "nice": false, "zero": false}, "axis": null},
    "y": {"field": "factor", "type": "nominal", "scale": {"domain": ["GFP-NLRC4-H443P", "mCaspase-1", "mCaspase-8"], "range": [477, 513], "paddingInner": 0, "paddingOuter": 0}, "axis": {"orient": "right", "offset": -122, "title": null, "ticks": false, "domain": false, "labelFontSize": 11, "labelFontWeight": "bold", "labelPadding": 1}},
    "text": {"field": "sign"}}},

 {"data": {"values": [
    {"construct": "NLRC4", "cells": "Exp cells", "value": 8.0, "lo": 5.4, "hi": 10.7},
    {"construct": "NLRC4", "cells": "Non-exp cells", "value": 3.2, "lo": 2.7, "hi": 3.7},
    {"construct": "NLRC4-H443P", "cells": "Exp cells", "value": 15.9, "lo": 14.6, "hi": 17.2, "sig": "***"},
    {"construct": "NLRC4-H443P", "cells": "Non-exp cells", "value": 3.4, "lo": 2.8, "hi": 4.1}]},
  "encoding": {
    "x": {"field": "construct", "type": "nominal", "scale": {"domain": ["NLRC4", "NLRC4-H443P"], "range": [57, 117], "paddingInner": 0.1, "paddingOuter": 0.05}, "axis": {"orient": "bottom", "offset": -74, "title": null, "labelAngle": -45, "labelFontSize": 11, "labelFontWeight": "bold", "ticks": false, "domain": false, "labelPadding": 4}},
    "xOffset": {"field": "cells", "type": "nominal", "scale": {"domain": ["Exp cells", "Non-exp cells"]}}},
  "layer": [
   {"mark": {"type": "bar", "stroke": "#000", "strokeWidth": 1.3, "opacity": 1},
    "encoding": {
      "y": {"field": "value", "type": "quantitative", "scale": {"domain": [0, 25], "range": [874, 697], "nice": false}, "axis": {"orient": "left", "offset": -57, "title": ["% cells showing", "apoptotic morphology"], "titleFontSize": 13, "titleFontWeight": "bold", "titleLineHeight": 15, "titlePadding": 1, "labelFontSize": 12.5, "values": [0, 5, 10, 15, 20, 25], "labelExpr": "datum.value === 10 || datum.value === 20 ? '' : datum.label", "tickSize": {"condition": {"test": "datum.value === 10 || datum.value === 20", "value": 3}, "value": 4}, "tickWidth": 1.2, "labelPadding": 1, "domainWidth": 1.3}},
      "color": {"field": "cells", "type": "nominal", "scale": {"domain": ["Exp cells", "Non-exp cells"], "range": ["#000000", "#ffffff"]}, "legend": {"title": null, "orient": "none", "legendX": 58, "legendY": 672, "symbolType": "square", "symbolSize": 25, "symbolStrokeColor": "#000", "symbolStrokeWidth": 1, "labelFontSize": 8, "labelFontWeight": "bold", "rowPadding": 2, "labelOffset": 2, "padding": 0}}}},
   {"mark": {"type": "rule", "color": "#000", "strokeWidth": 1}, "encoding": {"y": {"field": "lo", "type": "quantitative"}, "y2": {"field": "hi"}}},
   {"mark": {"type": "tick", "orient": "horizontal", "size": 5, "thickness": 1, "color": "#000", "opacity": 1}, "encoding": {"y": {"field": "hi", "type": "quantitative"}}},
   {"transform": [{"filter": "isValid(datum.sig)"}], "mark": {"type": "text", "dy": -7, "fontSize": 11, "fontWeight": "bold"}, "encoding": {"y": {"field": "hi", "type": "quantitative"}, "text": {"field": "sig"}}}
 ]},

 {"data": {"values": [{"panel": "G"}]},
  "encoding": {"x": {"datum": 0, "type": "quantitative", "scale": {"domain": [0, 1], "range": [57, 117]}, "axis": null}, "y": {"datum": 0, "type": "quantitative", "scale": {"domain": [0, 1], "range": [874, 697]}, "axis": null}},
  "layer": [
   {"mark": {"type": "rect", "fillOpacity": 0, "stroke": "#333", "strokeWidth": 1.3}, "encoding": {"x2": {"datum": 1}, "y2": {"datum": 1}}},
   {"mark": {"type": "text", "align": "left", "baseline": "alphabetic", "fontSize": 16, "fontWeight": "bold"}, "encoding": {"x": {"datum": -0.95, "type": "quantitative"}, "y": {"datum": 1.237, "type": "quantitative"}, "text": {"field": "panel"}}}
 ]},

 {"data": {"values": [
    {"construct": "NLRC4", "cells": "Exp cells", "value": 7.9, "lo": 4.6, "hi": 11.3},
    {"construct": "NLRC4", "cells": "Non-exp cells", "value": 3.2, "lo": 2.6, "hi": 3.8},
    {"construct": "NLRC4-H443P", "cells": "Exp cells", "value": 17.3, "lo": 13.9, "hi": 20.7, "sig": "**"},
    {"construct": "NLRC4-H443P", "cells": "Non-exp cells", "value": 3.2, "lo": 2.5, "hi": 3.9}]},
  "encoding": {
    "x": {"field": "construct", "type": "nominal", "scale": {"domain": ["NLRC4", "NLRC4-H443P"], "range": [193, 253], "paddingInner": 0.1, "paddingOuter": 0.05}, "axis": {"orient": "bottom", "offset": -74, "title": null, "labelAngle": -45, "labelFontSize": 11, "labelFontWeight": "bold", "ticks": false, "domain": false, "labelPadding": 4}},
    "xOffset": {"field": "cells", "type": "nominal", "scale": {"domain": ["Exp cells", "Non-exp cells"]}}},
  "layer": [
   {"mark": {"type": "bar", "stroke": "#000", "strokeWidth": 1.3, "opacity": 1},
    "encoding": {
      "y": {"field": "value", "type": "quantitative", "scale": {"domain": [0, 25], "range": [874, 697], "nice": false}, "axis": {"orient": "left", "offset": -193, "title": "% Annex.V / 7-AAD positivity", "titleFontSize": 13, "titleFontWeight": "bold", "titlePadding": 2, "labelFontSize": 12.5, "values": [0, 5, 10, 15, 20, 25], "labelExpr": "datum.value === 10 || datum.value === 20 ? '' : datum.label", "tickSize": {"condition": {"test": "datum.value === 10 || datum.value === 20", "value": 3}, "value": 4}, "tickWidth": 1.2, "labelPadding": 1, "domainWidth": 1.3}},
      "color": {"field": "cells", "type": "nominal", "scale": {"domain": ["Exp cells", "Non-exp cells"], "range": ["#000000", "#ffffff"]}, "legend": {"title": null, "orient": "none", "legendX": 193, "legendY": 675, "symbolType": "square", "symbolSize": 25, "symbolStrokeColor": "#000", "symbolStrokeWidth": 1, "labelFontSize": 8, "labelFontWeight": "bold", "rowPadding": 2, "labelOffset": 2, "padding": 0}}}},
   {"mark": {"type": "rule", "color": "#000", "strokeWidth": 1}, "encoding": {"y": {"field": "lo", "type": "quantitative"}, "y2": {"field": "hi"}}},
   {"mark": {"type": "tick", "orient": "horizontal", "size": 5, "thickness": 1, "color": "#000", "opacity": 1}, "encoding": {"y": {"field": "hi", "type": "quantitative"}}},
   {"transform": [{"filter": "isValid(datum.sig)"}], "mark": {"type": "text", "dy": -7, "fontSize": 11, "fontWeight": "bold"}, "encoding": {"y": {"field": "hi", "type": "quantitative"}, "text": {"field": "sig"}}}
 ]},

 {"data": {"values": [{"panel": "G2"}]},
  "mark": {"type": "rect", "fillOpacity": 0, "stroke": "#333", "strokeWidth": 1.3},
  "encoding": {"x": {"datum": 0, "type": "quantitative", "scale": {"domain": [0, 1], "range": [193, 253]}, "axis": null}, "x2": {"datum": 1}, "y": {"datum": 0, "type": "quantitative", "scale": {"domain": [0, 1], "range": [874, 697]}, "axis": null}, "y2": {"datum": 1}}},

 {"layer": [
   {"data": {"values": [{"strip": "GFP"}, {"strip": "Actin"}]},
    "mark": {"type": "rect", "stroke": "#333", "strokeWidth": 1.2},
    "encoding": {
      "x": {"datum": 0.5, "type": "quantitative", "scale": {"domain": [0.5, 3.5], "range": [323, 408], "nice": false, "zero": false}, "axis": null},
      "x2": {"datum": 3.5},
      "y": {"field": "strip", "type": "nominal", "scale": {"domain": ["GFP", "Actin"], "range": [807, 871], "paddingInner": 0.222, "paddingOuter": 0}, "axis": null},
      "color": {"field": "strip", "type": "nominal", "scale": {"domain": ["GFP", "Actin"], "range": ["#f4f4f4", "#efefef"]}, "legend": null}}},
   {"data": {"values": [{"lane": 1, "intensity": 1}, {"lane": 2, "intensity": 1}]},
    "mark": {"type": "tick", "orient": "horizontal", "size": 22, "thickness": 8, "color": "#111", "cornerRadius": 4},
    "encoding": {"x": {"field": "lane", "type": "quantitative"}, "y": {"datum": "GFP", "type": "nominal"}, "opacity": {"field": "intensity", "type": "quantitative", "scale": {"domain": [0, 1], "range": [0, 1]}, "legend": null}}},
   {"data": {"values": [{"lane": 1, "intensity": 0.45}, {"lane": 2, "intensity": 0.45}, {"lane": 3, "intensity": 0.65}]},
    "mark": {"type": "tick", "orient": "horizontal", "size": 22, "thickness": 5, "color": "#222", "cornerRadius": 2},
    "encoding": {"x": {"field": "lane", "type": "quantitative"}, "y": {"datum": "Actin", "type": "nominal"}, "opacity": {"field": "intensity", "type": "quantitative"}}},
   {"data": {"values": [{"strip": "GFP"}, {"strip": "Actin"}]},
    "mark": {"type": "text", "align": "right", "baseline": "middle", "dx": -5, "fontSize": 12.5, "fontWeight": "bold"},
    "encoding": {"x": {"datum": 0.5, "type": "quantitative"}, "y": {"field": "strip", "type": "nominal"}, "text": {"field": "strip"}}},
   {"data": {"values": [{"lane": 1, "name": "GFP-NLRC4"}, {"lane": 2, "name": "GFP-NLRC4-H443P"}]},
    "mark": {"type": "text", "angle": 270, "align": "left", "baseline": "middle", "dx": 23, "fontSize": 11.5, "fontWeight": "bold"},
    "encoding": {"x": {"field": "lane", "type": "quantitative"}, "y": {"datum": "GFP", "type": "nominal"}, "text": {"field": "name"}}},
   {"data": {"values": [{"lane": 3, "name": "UT"}]},
    "mark": {"type": "text", "align": "center", "baseline": "middle", "dy": -21, "fontSize": 11.5, "fontWeight": "bold"},
    "encoding": {"x": {"field": "lane", "type": "quantitative"}, "y": {"datum": "GFP", "type": "nominal"}, "text": {"field": "name"}}},
   {"data": {"values": [{"marker": "— 100 KD"}]},
    "mark": {"type": "text", "align": "left", "baseline": "middle", "dx": 1, "dy": 9, "fontSize": 11.5, "fontWeight": "bold"},
    "encoding": {"x": {"datum": 3.5, "type": "quantitative"}, "y": {"datum": "GFP", "type": "nominal"}, "text": {"field": "marker"}}}
 ]}
]
}
